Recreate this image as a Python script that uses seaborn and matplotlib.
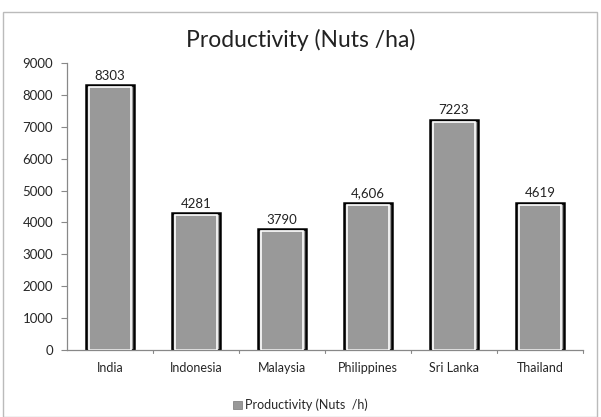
import matplotlib
matplotlib.use("Agg")
import matplotlib.pyplot as plt
import seaborn as sns
import pandas as pd
from matplotlib.patches import Rectangle

countries = ["India", "Indonesia", "Malaysia", "Philippines", "Sri Lanka", "Thailand"]
productivity = [8303, 4281, 3790, 4606, 7223, 4619]
value_labels = ["8303", "4281", "3790", "4,606", "7223", "4619"]
y_ticks = [0, 1000, 2000, 3000, 4000, 5000, 6000, 7000, 8000, 9000]

sns.set_theme(style="white")
plt.rcParams['font.family'] = ['Lato', 'DejaVu Sans']

df = pd.DataFrame({"Country": countries, "Productivity": productivity})

fig = plt.figure(figsize=(6.01, 4.17), dpi=100)
ax = fig.add_axes([67/601, 1-350/417, (583-67)/601, (350-63)/417])

sns.barplot(data=df, x="Country", y="Productivity", ax=ax, color="#999999",
            saturation=1, width=0.56, edgecolor="black", linewidth=1.8,
            label="Productivity (Nuts  /h)")

# inner white highlight line on each bar
for p in list(ax.patches):
    x, w, h = p.get_x(), p.get_width(), p.get_height()
    ax.add_patch(Rectangle((x + w*0.07, 0), w*0.86, h - 60, fill=False,
                           edgecolor="white", linewidth=1.2, zorder=3))

for i, (v, lab) in enumerate(zip(productivity, value_labels)):
    ax.text(i, v + 110, lab, ha="center", va="bottom", fontsize=9.5, color="#222222")

ax.set_ylim(0, 9000)
ax.set_xlim(-0.5, 5.5)
ax.set_yticks(y_ticks)
ax.set_yticklabels([str(t) for t in y_ticks], fontsize=9.5)
ax.tick_params(axis="x", labelsize=9, pad=9, length=0)
ax.tick_params(axis="y", length=4, width=0.8, color="#888888", direction="out", left=True, pad=6)
ax.set_xlabel("")
ax.set_ylabel("")
for s in ["top", "right"]:
    ax.spines[s].set_visible(False)
for s in ["left", "bottom"]:
    ax.spines[s].set_color("#888888")
    ax.spines[s].set_linewidth(0.9)
# category separator ticks on x axis
ax.set_xticks(range(len(countries)))
for k in range(len(countries)):
    ax.plot([k + 0.5, k + 0.5], [0, -100], color="#888888", lw=0.8, clip_on=False)

fig.suptitle("Productivity (Nuts /ha)", y=1-40/417, va="center", fontsize=16.5, color="#222222")

handles, labels = ax.get_legend_handles_labels()
leg = fig.legend(handles[:1], ["Productivity (Nuts  /h)"], loc="center",
                 bbox_to_anchor=(0.5, 1-405/417), frameon=False, fontsize=9,
                 handlelength=0.7, handleheight=0.7, handletextpad=0.3)
for h in leg.legend_handles:
    h.set_edgecolor("#777777")
    h.set_linewidth(0.5)
if ax.get_legend():
    ax.get_legend().remove()

fig.patches.append(Rectangle((3/601, 0), 594/601, 1-12/417, transform=fig.transFigure,
                             fill=False, edgecolor="#bbbbbb", linewidth=1))

fig.savefig("out.png", dpi=100)
